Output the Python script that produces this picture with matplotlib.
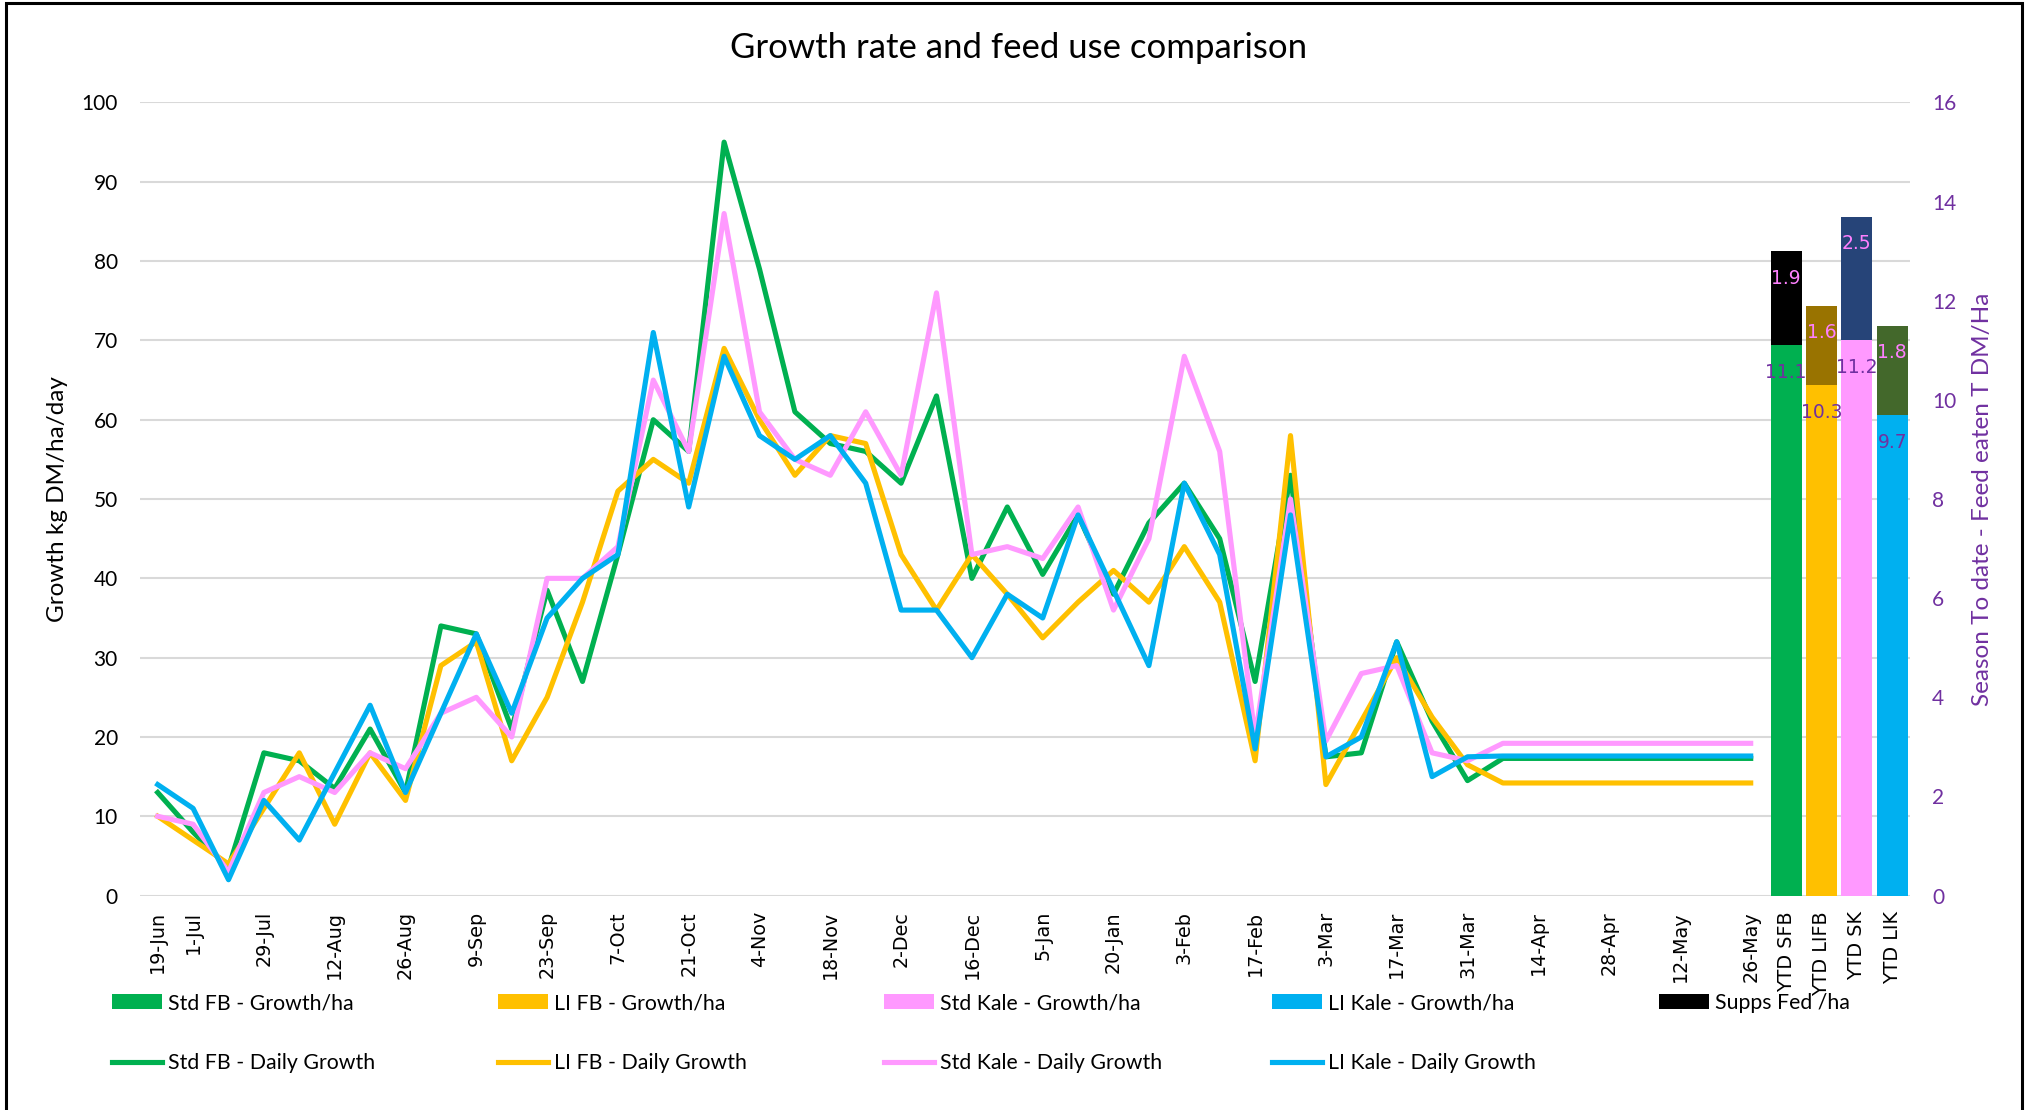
import matplotlib.pyplot as plt
from matplotlib.patches import Rectangle

# weekly categories, only every other date carries a label
dates = ['19-Jun', '1-Jul', '', '29-Jul', '', '12-Aug', '', '26-Aug', '', '9-Sep',
         '', '23-Sep', '', '7-Oct', '', '21-Oct', '', '4-Nov', '', '18-Nov',
         '', '2-Dec', '', '16-Dec', '', '5-Jan', '', '20-Jan', '', '3-Feb',
         '', '17-Feb', '', '3-Mar', '', '17-Mar', '', '31-Mar', '', '14-Apr',
         '', '28-Apr', '', '12-May', '', '26-May']
ytd_labels = ['YTD SFB', 'YTD LIFB', 'YTD SK', 'YTD LIK']

# daily growth, kg DM/ha/day
std_fb = [13, 8, 3.5, 18, 17, 13.5, 21, 13, 34, 33,
          21, 38.5, 27, 43, 60, 56, 95, 79, 61, 57,
          56, 52, 63, 40, 49, 40.5, 48, 38, 47, 52,
          45, 27, 53, 17.5, 18, 32, 22, 14.5, 17.3, 17.3,
          17.3, 17.3, 17.3, 17.3, 17.3, 17.3]
li_fb = [10, 7, 4, 11, 18, 9, 18, 12, 29, 32,
         17, 25, 37, 51, 55, 52, 69, 60, 53, 58,
         57, 43, 36, 43, 38, 32.5, 37, 41, 37, 44,
         37, 17, 58, 14, 22, 30, 22.5, 16.5, 14.2, 14.2,
         14.2, 14.2, 14.2, 14.2, 14.2, 14.2]
std_kale = [10, 9, 3, 13, 15, 13, 18, 16, 23, 25,
            20, 40, 40, 44, 65, 56, 86, 61, 55, 53,
            61, 53, 76, 43, 44, 42.5, 49, 36, 45, 68,
            56, 20, 50, 19.5, 28, 29, 18, 17, 19.2, 19.2,
            19.2, 19.2, 19.2, 19.2, 19.2, 19.2]
li_kale = [14, 11, 2, 12, 7, 15.5, 24, 13, 23, 33,
           23, 35, 40, 43, 71, 49, 68, 58, 55, 58,
           52, 36, 36, 30, 38, 35, 48, 38.5, 29, 52,
           43, 18.5, 48, 17.5, 20, 32, 15, 17.5, 17.6, 17.6,
           17.6, 17.6, 17.6, 17.6, 17.6, 17.6]

# season to date feed eaten, T DM/ha
ytd_growth = [11.1, 10.3, 11.2, 9.7]
ytd_supps = [1.9, 1.6, 2.5, 1.8]

green, yellow, pink, blue = '#00B050', '#FFC000', '#FF99FF', '#00B0F0'
supp_colors = ['#000000', '#997300', '#264478', '#43682B']
purple = '#7030A0'
W, H = 2035, 1110

fig = plt.figure(figsize=(W / 100, H / 100), dpi=100)
ax = fig.add_axes([140 / W, 1 - 895.6 / H, 1770 / W, 793.1 / H])
ax2 = ax.twinx()

x = list(range(len(dates)))
xb = [len(dates) + i for i in range(len(ytd_labels))]

lw = 3.7
l1, = ax.plot(x, std_fb, color=green, lw=lw, label='Std FB - Daily Growth')
l2, = ax.plot(x, li_fb, color=yellow, lw=lw, label='LI FB - Daily Growth')
l3, = ax.plot(x, std_kale, color=pink, lw=lw, label='Std Kale - Daily Growth')
l4, = ax.plot(x, li_kale, color=blue, lw=lw, label='LI Kale - Daily Growth')

ax.set_xlim(-0.5, len(dates) + len(ytd_labels) - 0.5)
ax.set_ylim(0, 100)
ax.set_yticks(range(0, 101, 10))
ax.grid(True, axis='y', color='#D9D9D9', lw=1.5)
ax.set_axisbelow(True)
ax.set_xticks(x + xb)
ax.set_xticklabels(dates + ytd_labels, rotation=90, fontsize=13.8, family='DejaVu Sans')
ax.tick_params(axis='x', length=0, pad=11)
ax.tick_params(axis='y', length=0, pad=16, labelsize=15)
for t in ax.get_yticklabels():
    t.set_family('Lato')
ax.set_ylabel('Growth kg DM/ha/day', fontsize=17.5, family='Lato', va='center')
ax.yaxis.set_label_coords((58 - 140) / 1770, 0.5)

bars = ax2.bar(xb, ytd_growth, width=0.88, color=[green, yellow, pink, blue])
supps = ax2.bar(xb, ytd_supps, bottom=ytd_growth, width=0.88, color=supp_colors)
for xi, g, s in zip(xb, ytd_growth, ytd_supps):
    ax2.text(xi, g - 0.55, f'{g:.1f}', color=purple, ha='center', va='center',
             fontsize=13.5, family='DejaVu Sans')
    ax2.text(xi, g + s - 0.55, f'{s:.1f}', color='#FF80FF', ha='center', va='center',
             fontsize=13.5, family='DejaVu Sans')

ax2.set_ylim(0, 16)
ax2.set_yticks(range(0, 17, 2))
ax2.tick_params(axis='y', length=0, pad=16, labelsize=15, labelcolor=purple)
for t in ax2.get_yticklabels():
    t.set_family('Lato')
ax2.set_ylabel('Season To date - Feed eaten T DM/Ha', fontsize=17.5, family='Lato',
               color=purple, va='center', rotation=90)
ax2.yaxis.set_label_coords((1982 - 140) / 1770, 0.5)

for a in (ax, ax2):
    for sp in a.spines.values():
        sp.set_visible(False)

fig.text(1019 / W, 1 - 48 / H, 'Growth rate and feed use comparison',
         ha='center', va='center', fontsize=25, family='Lato')

# legend laid out in evenly spaced columns: bars on top row, lines below
columns = [
    ([bars[0], l1], ['Std FB - Growth/ha', 'Std FB - Daily Growth']),
    ([bars[1], l2], ['LI FB - Growth/ha', 'LI FB - Daily Growth']),
    ([bars[2], l3], ['Std Kale - Growth/ha', 'Std Kale - Daily Growth']),
    ([bars[3], l4], ['LI Kale - Growth/ha', 'LI Kale - Daily Growth']),
    ([supps[0]], ['Supps Fed /ha']),
]
col_x = [111.6, 498, 884, 1272, 1659]
for cx, (handles, labels) in zip(col_x, columns):
    fig.legend(handles, labels, loc='upper left', bbox_to_anchor=(cx / W, 1 - 993 / H),
               frameon=False, borderpad=0, borderaxespad=0, handlelength=2.35,
               handletextpad=0.3, labelspacing=1.9, prop={'family': 'Lato', 'size': 15.3})

fig.patches.append(Rectangle((6 / W, -0.01), 2016 / W, 1.01 - 3 / H, transform=fig.transFigure,
                             fill=False, edgecolor='black', lw=2.2))

fig.savefig('out.png', dpi=100)
